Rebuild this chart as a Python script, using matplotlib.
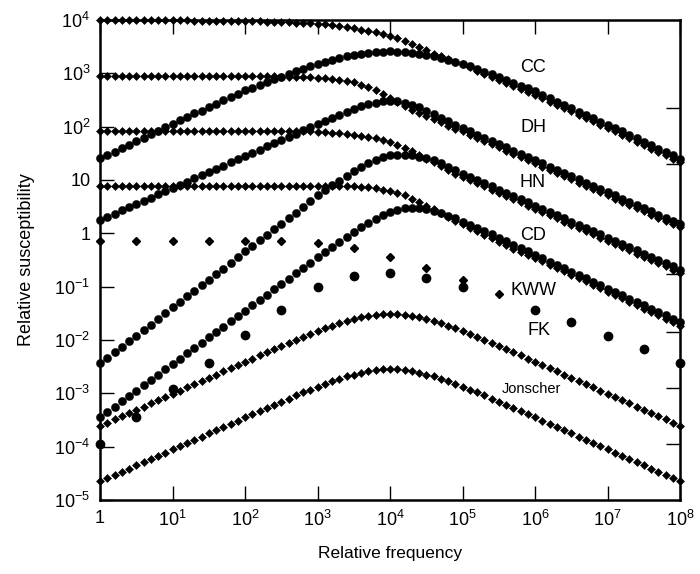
import numpy as np
import matplotlib
matplotlib.use("Agg")
import matplotlib.pyplot as plt

plt.rcParams['font.family'] = ['Liberation Sans', 'DejaVu Sans']
plt.rcParams['mathtext.fontset'] = 'custom'
plt.rcParams['mathtext.rm'] = 'Liberation Sans'
plt.rcParams['mathtext.it'] = 'Liberation Sans:italic'

# frequency grid: 10 points per decade, log10 of relative frequency
log_freq = np.linspace(0, 8, 81)

# log10 of relative susceptibility
cc_real = [4.00, 4.00, 4.00, 4.00, 4.00, 4.00, 4.00, 4.00, 4.00, 4.00,
           4.00, 4.00, 4.00, 3.99, 3.99, 3.99, 3.99, 3.99, 3.99, 3.99,
           3.98, 3.98, 3.98, 3.97, 3.97, 3.97, 3.96, 3.95, 3.95, 3.94,
           3.93, 3.92, 3.90, 3.89, 3.87, 3.85, 3.82, 3.80, 3.77, 3.74,
           3.70,
           3.66, 3.61, 3.55, 3.49, 3.43, 3.37, 3.32, 3.27, 3.22,
           3.17, 3.11, 3.05, 2.99, 2.93, 2.87, 2.81, 2.76, 2.70, 2.65,
           2.60, 2.54, 2.47, 2.41, 2.35, 2.29, 2.22, 2.16, 2.10, 2.03,
           1.97, 1.91, 1.85, 1.78, 1.72, 1.66, 1.59, 1.53, 1.47, 1.40,
           1.34]
cc_imag = [1.41, 1.47, 1.53, 1.60, 1.66, 1.73, 1.79, 1.86, 1.92, 1.99,
           2.05, 2.12, 2.18, 2.25, 2.30, 2.37, 2.43, 2.50, 2.55, 2.62,
           2.68, 2.73, 2.79, 2.84, 2.89, 2.94, 2.99, 3.04, 3.09, 3.13,
           3.18, 3.22, 3.25, 3.29, 3.32, 3.34, 3.37, 3.38, 3.40, 3.40,
           3.41,
           3.40, 3.40, 3.38, 3.37, 3.34, 3.32, 3.29, 3.25, 3.22,
           3.18, 3.13, 3.08, 3.03, 2.98, 2.93, 2.87, 2.82, 2.77, 2.72,
           2.66, 2.60, 2.53, 2.47, 2.41, 2.35, 2.28, 2.22, 2.16, 2.09,
           2.03, 1.97, 1.91, 1.84, 1.78, 1.72, 1.65, 1.59, 1.53, 1.46,
           1.40]

dh_real = [2.95, 2.95, 2.95, 2.95, 2.95, 2.95, 2.95, 2.95, 2.95, 2.95,
           2.95, 2.95, 2.95, 2.95, 2.95, 2.95, 2.95, 2.95, 2.95, 2.95,
           2.95, 2.95, 2.95, 2.95, 2.95, 2.94, 2.94, 2.94, 2.93, 2.93,
           2.92, 2.91, 2.90, 2.88, 2.86, 2.83, 2.79, 2.74, 2.68, 2.61,
           2.54,
           2.46, 2.39, 2.32, 2.26, 2.20, 2.14, 2.08, 2.02, 1.96,
           1.91, 1.85, 1.79, 1.73, 1.67, 1.61, 1.55, 1.49, 1.43, 1.37,
           1.31, 1.25, 1.19, 1.13, 1.07, 1.01, 0.95, 0.89, 0.83, 0.77,
           0.71, 0.65, 0.59, 0.53, 0.47, 0.41, 0.35, 0.29, 0.23, 0.17,
           0.11]
dh_imag = [0.25, 0.31, 0.37, 0.43, 0.49, 0.55, 0.61, 0.67, 0.73, 0.79,
           0.85, 0.91, 0.97, 1.03, 1.09, 1.15, 1.21, 1.27, 1.33, 1.39,
           1.45, 1.51, 1.57, 1.63, 1.69, 1.75, 1.81, 1.87, 1.93, 1.99,
           2.05, 2.11, 2.17, 2.22, 2.28, 2.33, 2.38, 2.42, 2.45, 2.48,
           2.49,
           2.48, 2.45, 2.41, 2.36, 2.30, 2.24, 2.17, 2.10, 2.04,
           1.97, 1.91, 1.85, 1.79, 1.73, 1.67, 1.61, 1.55, 1.49, 1.43,
           1.37, 1.31, 1.25, 1.19, 1.13, 1.07, 1.01, 0.95, 0.89, 0.83,
           0.77, 0.71, 0.65, 0.59, 0.53, 0.47, 0.41, 0.35, 0.29, 0.23,
           0.17]

hn_real = [1.91, 1.91, 1.91, 1.91, 1.91, 1.91, 1.91, 1.91, 1.91, 1.91,
           1.91, 1.91, 1.91, 1.91, 1.91, 1.91, 1.91, 1.91, 1.91, 1.91,
           1.91, 1.91, 1.91, 1.91, 1.91, 1.91, 1.91, 1.91, 1.91, 1.91,
           1.90, 1.90, 1.89, 1.88, 1.87, 1.85, 1.83, 1.81, 1.78, 1.75,
           1.71,
           1.66, 1.60, 1.54, 1.47, 1.40, 1.33, 1.26, 1.19, 1.12,
           1.06, 1.00, 0.94, 0.88, 0.82, 0.76, 0.70, 0.64, 0.58, 0.52,
           0.46, 0.40, 0.34, 0.28, 0.22, 0.16, 0.10, 0.04, -0.02, -0.08,
           -0.14, -0.20, -0.26, -0.32, -0.38, -0.44, -0.50, -0.56, -0.62, -0.68,
           -0.74]
hn_imag = [-2.44, -2.34, -2.23, -2.13, -2.02, -1.92, -1.81, -1.71, -1.60, -1.50,
           -1.39, -1.29, -1.18, -1.08, -0.97, -0.87, -0.76, -0.66, -0.55, -0.45,
           -0.34, -0.24, -0.13, -0.03, 0.08, 0.18, 0.29, 0.39, 0.50, 0.60,
           0.71, 0.81, 0.90, 0.99, 1.08, 1.17, 1.25, 1.32, 1.38, 1.43,
           1.46,
           1.47, 1.47, 1.46, 1.44, 1.41, 1.37, 1.32, 1.25, 1.18,
           1.12, 1.06, 1.00, 0.94, 0.88, 0.82, 0.76, 0.70, 0.64, 0.58,
           0.52, 0.46, 0.40, 0.34, 0.28, 0.22, 0.16, 0.10, 0.04, -0.02,
           -0.08, -0.14, -0.20, -0.26, -0.32, -0.38, -0.44, -0.50, -0.56, -0.62,
           -0.68]

cd_real = [0.89, 0.89, 0.89, 0.89, 0.89, 0.89, 0.89, 0.89, 0.89, 0.89,
           0.89, 0.89, 0.89, 0.89, 0.89, 0.89, 0.89, 0.89, 0.89, 0.89,
           0.89, 0.89, 0.89, 0.89, 0.89, 0.89, 0.89, 0.89, 0.89, 0.89,
           0.89, 0.89, 0.89, 0.89, 0.89, 0.88, 0.87, 0.86, 0.85, 0.82,
           0.80,
           0.76, 0.71, 0.65, 0.59, 0.52, 0.45, 0.38, 0.31, 0.24,
           0.17, 0.10, 0.04, -0.03, -0.09, -0.16, -0.22, -0.29, -0.35, -0.40,
           -0.46, -0.52, -0.59, -0.65, -0.71, -0.78, -0.84, -0.90, -0.97, -1.03,
           -1.10, -1.16, -1.22, -1.29, -1.35, -1.41, -1.48, -1.54, -1.60, -1.67,
           -1.73]
cd_imag = [-3.45, -3.35, -3.25, -3.15, -3.05, -2.95, -2.85, -2.75, -2.65, -2.55,
           -2.45, -2.35, -2.25, -2.15, -2.05, -1.95, -1.85, -1.75, -1.65, -1.55,
           -1.45, -1.35, -1.25, -1.15, -1.05, -0.95, -0.85, -0.75, -0.65, -0.55,
           -0.45, -0.35, -0.26, -0.16, -0.07, 0.02, 0.11, 0.19, 0.27, 0.34,
           0.40,
           0.44, 0.47, 0.48, 0.47, 0.45, 0.42, 0.38, 0.33, 0.28,
           0.22, 0.16, 0.10, 0.04, -0.02, -0.08, -0.15, -0.21, -0.27, -0.34,
           -0.40, -0.46, -0.53, -0.59, -0.65, -0.72, -0.78, -0.84, -0.91, -0.97,
           -1.04, -1.10, -1.16, -1.23, -1.29, -1.35, -1.42, -1.48, -1.54, -1.61,
           -1.67]

# the two lower diamond curves (FK / Jonscher region)
low_upper = [-3.61, -3.55, -3.49, -3.43, -3.37, -3.31, -3.25, -3.19, -3.13, -3.07,
             -3.01, -2.95, -2.89, -2.83, -2.77, -2.71, -2.65, -2.59, -2.53, -2.47,
             -2.41, -2.35, -2.29, -2.23, -2.17, -2.12, -2.06, -2.00, -1.94, -1.89,
             -1.84, -1.78, -1.73, -1.69, -1.64, -1.61, -1.57, -1.55, -1.53, -1.51,
             -1.51,
             -1.51, -1.53, -1.55, -1.57, -1.61, -1.64, -1.69, -1.73, -1.78,
             -1.84, -1.89, -1.94, -2.00, -2.06, -2.12, -2.17, -2.23, -2.29, -2.35,
             -2.41, -2.47, -2.53, -2.59, -2.65, -2.71, -2.77, -2.83, -2.89, -2.95,
             -3.01, -3.07, -3.13, -3.19, -3.25, -3.31, -3.37, -3.43, -3.49, -3.55,
             -3.61]
low_lower = [-4.65, -4.59, -4.53, -4.47, -4.41, -4.35, -4.29, -4.23, -4.17, -4.11,
             -4.05, -3.99, -3.93, -3.87, -3.81, -3.75, -3.69, -3.63, -3.57, -3.51,
             -3.45, -3.39, -3.33, -3.27, -3.21, -3.16, -3.10, -3.04, -2.98, -2.93,
             -2.88, -2.82, -2.77, -2.73, -2.68, -2.65, -2.61, -2.59, -2.57, -2.55,
             -2.55,
             -2.55, -2.57, -2.59, -2.61, -2.65, -2.68, -2.73, -2.77, -2.82,
             -2.88, -2.93, -2.98, -3.04, -3.10, -3.16, -3.21, -3.27, -3.33, -3.39,
             -3.45, -3.51, -3.57, -3.63, -3.69, -3.75, -3.81, -3.87, -3.93, -3.99,
             -4.05, -4.11, -4.17, -4.23, -4.29, -4.35, -4.41, -4.47, -4.53, -4.59,
             -4.65]

# sparse series, half-decade steps
kww_logf = [0.0, 0.5, 1.0, 1.5, 2.0, 2.5, 3.0, 3.5, 4.0, 4.5, 5.0, 5.5]
kww_vals = [-0.15, -0.15, -0.15, -0.15, -0.15, -0.15, -0.18, -0.27, -0.44, -0.645, -0.875, -1.14]
fk_logf = [0.0, 0.5, 1.0, 1.5, 2.0, 2.5, 3.0, 3.5, 4.0, 4.5, 5.0, 6.0, 6.5, 7.0, 7.5, 8.0]
fk_vals = [-3.95, -3.44, -2.92, -2.43, -1.91, -1.43, -1.01, -0.80, -0.75, -0.83, -1.00,
           -1.43, -1.66, -1.93, -2.16, -2.44]

labels = ['CC', 'DH', 'HN', 'CD', 'KWW', 'FK', 'Jonscher']
label_pos = [(9.4e5, 1.3e3), (9.4e5, 98), (9.4e5, 8.8), (9.4e5, 0.93),
             (9.4e5, 0.083), (1.12e6, 0.0148), (9.0e5, 1.2e-3)]

x_ticks = [10.0 ** k for k in range(9)]
x_labels = ['1'] + ['$10^{%d}$' % k for k in range(1, 9)]
y_ticks = [10.0 ** k for k in range(-5, 5)]
y_labels = ['$10^{%d}$' % k for k in range(-5, 0)] + ['1', '10'] + ['$10^{%d}$' % k for k in range(2, 5)]
# ticks on the right spine sit a little off the decades in the original
right_ticks = [2.35, 1.30, 0.25, -0.76, -1.85, -2.90, -3.95]

fig = plt.figure(figsize=(7, 5.74), dpi=100)
ax = fig.add_axes([100 / 700, 74 / 574, 580 / 700, 480 / 574])

freq = 10 ** log_freq
dia = dict(ls='none', marker='D', ms=4.1, color='black', mew=0.4, clip_on=False)
circ = dict(ls='none', marker='o', ms=5.9, color='black', mew=0.3, clip_on=False)

for real, imag in [(cc_real, cc_imag), (dh_real, dh_imag), (hn_real, hn_imag), (cd_real, cd_imag)]:
    ax.plot(freq, 10 ** np.array(imag), **circ)
    ax.plot(freq, 10 ** np.array(real), **dia)
ax.plot(freq, 10 ** np.array(low_upper), **dia)
ax.plot(freq, 10 ** np.array(low_lower), **dia)

ax.plot(10 ** np.array(kww_logf), 10 ** np.array(kww_vals), ls='none', marker='D',
        ms=4.0, color='black', clip_on=False)
ax.plot(10 ** np.array(fk_logf), 10 ** np.array(fk_vals), ls='none', marker='o',
        ms=6.0, color='black', clip_on=False)

for name, (lx, ly) in zip(labels, label_pos):
    size = 10.5 if name == 'Jonscher' else 13
    ax.text(lx, ly, name, fontsize=size, ha='center', va='center')

ax.set_xscale('log')
ax.set_yscale('log')
ax.set_xlim(1, 1e8)
ax.set_ylim(1e-5, 1e4)
ax.set_xticks(x_ticks)
ax.set_xticklabels(x_labels)
ax.set_yticks(y_ticks)
ax.set_yticklabels(y_labels)
ax.minorticks_off()
ax.tick_params(direction='in', length=10, width=1.0, top=True, right=False,
               labelsize=13, pad=7)
for sp in ax.spines.values():
    sp.set_linewidth(1.8)

# separate right-hand ticks
rax = ax.twinx()
rax.set_yscale('log')
rax.set_ylim(1e-5, 1e4)
rax.set_yticks([10.0 ** v for v in right_ticks])
rax.set_yticklabels([])
rax.minorticks_off()
rax.tick_params(direction='in', length=10, width=1.0)
for sp in rax.spines.values():
    sp.set_visible(False)

ax.set_xlabel('Relative frequency', fontsize=12.5, labelpad=12)
ax.set_ylabel('Relative susceptibility', fontsize=13, labelpad=14)

fig.savefig('out.png', dpi=100)
